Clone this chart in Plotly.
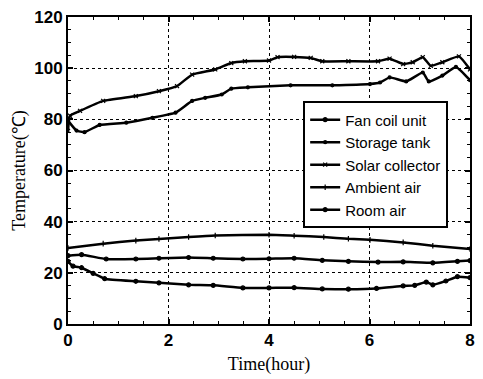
import plotly.graph_objects as go

# Solar collector
t_sc = [0.0, 0.04, 0.24, 0.7, 1.35, 1.81, 2.17, 2.47, 2.93, 3.25, 3.52, 4.0, 4.17, 4.5, 4.83, 5.06, 5.58, 6.17, 6.4, 6.67, 6.86, 7.06, 7.22, 7.45, 7.78, 8.0]
T_sc = [75.5, 81.4, 83.3, 87.2, 89.1, 91.0, 93.0, 97.5, 99.5, 102.0, 102.7, 103.0, 104.3, 104.4, 104.0, 102.7, 102.7, 102.7, 103.7, 101.6, 102.3, 104.3, 100.9, 102.3, 104.6, 99.5]
# Storage tank
t_st = [0.0, 0.17, 0.33, 0.63, 1.16, 1.68, 2.14, 2.47, 2.73, 3.06, 3.25, 3.58, 4.43, 5.26, 6.01, 6.21, 6.4, 6.73, 7.06, 7.18, 7.45, 7.72, 8.0]
T_st = [79.5, 75.6, 75.0, 77.8, 78.7, 80.6, 82.6, 87.2, 88.4, 89.7, 92.0, 92.5, 93.3, 93.3, 93.8, 94.4, 96.4, 94.8, 98.3, 94.8, 97.1, 100.5, 95.3]
# Ambient air
t_am = [0.0, 0.7, 1.35, 1.81, 2.4, 2.93, 4.0, 4.5, 5.09, 5.58, 6.01, 6.67, 7.26, 8.0]
T_am = [29.7, 31.4, 32.6, 33.2, 34.0, 34.6, 34.9, 34.5, 34.0, 33.3, 32.9, 31.9, 30.6, 29.3]
# Fan coil unit
t_fc = [0.0, 0.27, 0.76, 1.35, 1.81, 2.4, 2.89, 3.48, 4.0, 4.5, 5.06, 5.58, 6.17, 6.67, 7.26, 7.75, 8.0]
T_fc = [26.7, 27.1, 25.4, 25.4, 25.7, 26.0, 25.7, 25.4, 25.5, 25.7, 24.9, 24.5, 24.2, 24.3, 23.9, 24.5, 24.8]
# Room air
t_ra = [0.0, 0.1, 0.27, 0.5, 0.73, 1.35, 1.81, 2.4, 2.89, 3.48, 4.0, 4.5, 5.06, 5.58, 6.14, 6.67, 6.9, 7.13, 7.26, 7.52, 7.75, 8.0]
T_ra = [24.5, 22.6, 22.0, 19.8, 17.7, 16.7, 16.1, 15.3, 15.1, 14.1, 14.1, 14.2, 13.7, 13.6, 13.9, 14.9, 15.1, 16.4, 15.3, 16.8, 18.5, 18.1]

x_ticks = [0, 2, 4, 6, 8]
y_ticks = [0, 20, 40, 60, 80, 100, 120]

fig = go.Figure()
series = [
    ("Fan coil unit", t_fc, T_fc, "circle", 4),
    ("Storage tank", t_st, T_st, "circle", 3),
    ("Solar collector", t_sc, T_sc, "x-thin", 4),
    ("Ambient air", t_am, T_am, "cross-thin", 4),
    ("Room air", t_ra, T_ra, "circle", 4),
]
for name, xs, ys, sym, sz in series:
    fig.add_trace(go.Scatter(
        x=xs, y=ys, name=name, mode="lines+markers",
        line=dict(color="black", width=2.5, shape="spline", smoothing=0.4),
        marker=dict(symbol=sym, size=sz, color="black", line=dict(color="black", width=1.2)),
    ))

axis_common = dict(
    showline=True, linecolor="black", linewidth=2, mirror="allticks",
    ticks="inside", ticklen=5, tickwidth=1.5, tickcolor="black",
    showgrid=True, gridcolor="black", griddash="dot", gridwidth=1,
    zeroline=False,
    tickfont=dict(family="Liberation Sans", size=17, color="black", weight="bold"),
    minor=dict(ticks="inside", ticklen=3, tickcolor="black", tickwidth=1, showgrid=False),
)
fig.update_xaxes(range=[0, 8], tickvals=x_ticks, minor_dtick=0.5, **axis_common,
                 title=dict(text="Time(hour)", font=dict(family="Liberation Serif", size=18, color="black"), standoff=8))
fig.update_yaxes(range=[0, 120], tickvals=y_ticks, minor_dtick=5, **axis_common,
                 title=dict(text="Temperature(℃)", font=dict(family="Liberation Serif", size=18, color="black"), standoff=4))

fig.update_layout(
    width=483, height=379,
    margin=dict(l=68, r=8, t=15, b=54),
    plot_bgcolor="white", paper_bgcolor="white",
    legend=dict(x=0.585, y=0.725, xanchor="left", yanchor="top",
                bgcolor="white", bordercolor="black", borderwidth=2,
                font=dict(family="Liberation Sans", size=15, color="black"),
                tracegroupgap=0, itemwidth=30),
    showlegend=True,
)
fig.write_html("out.html")
